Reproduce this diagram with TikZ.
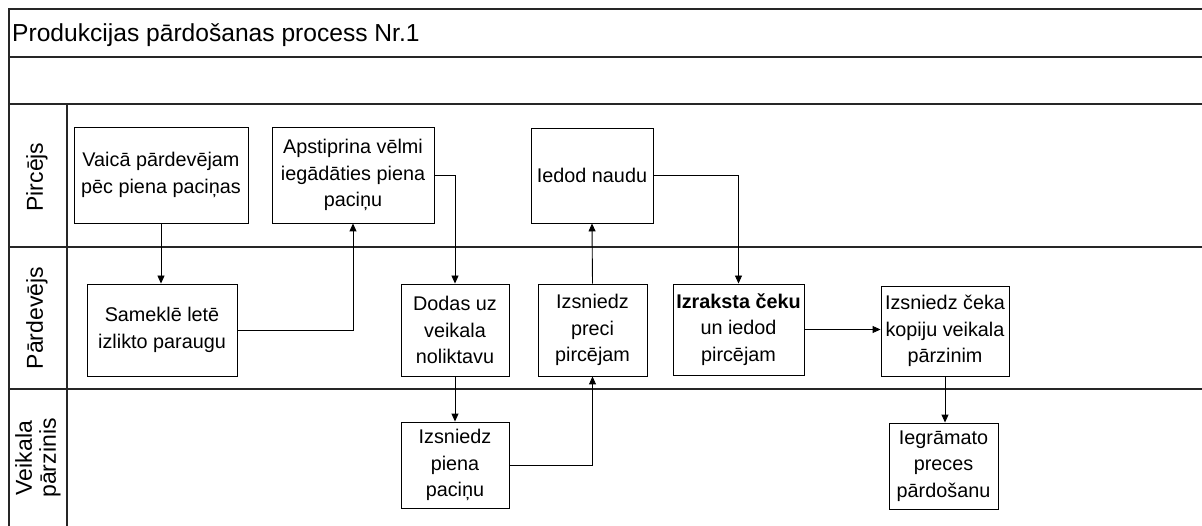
\documentclass[tikz,border=0pt]{standalone}
\usepackage{fontspec}
\setmainfont{Liberation Sans}
\usetikzlibrary{arrows.meta}
\tikzset{
  box/.style={draw=black, line width=0.9pt, fill=white, align=center, inner sep=1pt,
    font=\fontsize{19.8}{26.7}\selectfont},
  arr/.style={draw=black, line width=0.9pt, -{Triangle[length=8pt,width=7pt]}},
  frame/.style={draw=black!85, line width=1.4pt},
  lanelbl/.style={rotate=90, align=center, font=\fontsize{23}{24}\selectfont}
}
\begin{document}
\begin{tikzpicture}[x=1pt,y=-1pt]
\useasboundingbox (0,0) rectangle (1202,526);
% frame
\draw[frame] (1202,9) -- (9,9) -- (9,526);
\draw[frame] (9,57) -- (1202,57);
\draw[frame] (9,104) -- (1202,104);
\draw[frame, line width=2pt] (9,247) -- (1202,247);
\draw[frame] (9,389) -- (1202,389);
\draw[frame] (67,104) -- (67,526);
% title
\node[anchor=base west, inner sep=0pt, font=\fontsize{24.6}{28}\selectfont] (title) at (12,42) {Produkcijas pārdošanas process Nr.1};
% lane labels
\node[lanelbl] (l1) at (37,177) {Pircējs};
\node[lanelbl] (l2) at (37,318) {Pārdevējs};
\node[lanelbl] (l3) at (38,458) {Veikala\\pārzinis};
% boxes
\node[box, minimum width=174pt, minimum height=96pt] (vaica) at (161,175) {Vaicā pārdevējam\\pēc piena paciņas};
\node[box, minimum width=162pt, minimum height=96pt] (apst) at (353,175) {Apstiprina vēlmi\\iegādāties piena\\paciņu};
\node[box, minimum width=122pt, minimum height=95pt] (iedod) at (592,175.5) {Iedod naudu};
\node[box, minimum width=150pt, minimum height=92pt] (samek) at (162,330) {Sameklē letē\\izlikto paraugu};
\node[box, minimum width=108pt, minimum height=92pt] (dodas) at (455,330) {Dodas uz\\veikala\\noliktavu};
\node[box, minimum width=109pt, minimum height=92pt] (preci) at (592.5,330) {Izsniedz\\preci\\pircējam};
\node[box, minimum width=131pt, minimum height=91pt] (izr) at (738.5,329.5) {\textbf{Izraksta čeku}\\un iedod\\pircējam};
\node[box, minimum width=128pt, minimum height=90pt] (ceka) at (945,331) {Izsniedz čeka\\kopiju veikala\\pārzinim};
\node[box, minimum width=108pt, minimum height=86pt] (piena) at (455,465) {Izsniedz\\piena\\paciņu};
\node[box, minimum width=109pt, minimum height=86pt] (iegr) at (943.5,466) {Iegrāmato\\preces\\pārdošanu};
% connectors
\draw[arr] (vaica.south) -- (vaica.south |- samek.north);
\draw[arr] (samek.east) -| (apst.south);
\draw[arr] (apst.east) -| (dodas.north);
\draw[arr] (dodas.south) -- (piena.north);
\draw[arr] (piena.east) -| (preci.south);
\draw[arr] (preci.north) -- (iedod.south);
\draw[arr] (iedod.east) -| (izr.north);
\draw[arr] (izr.east) -- (izr.east -| ceka.west);
\draw[arr] (ceka.south) -- (ceka.south |- iegr.north);
\end{tikzpicture}
\end{document}
